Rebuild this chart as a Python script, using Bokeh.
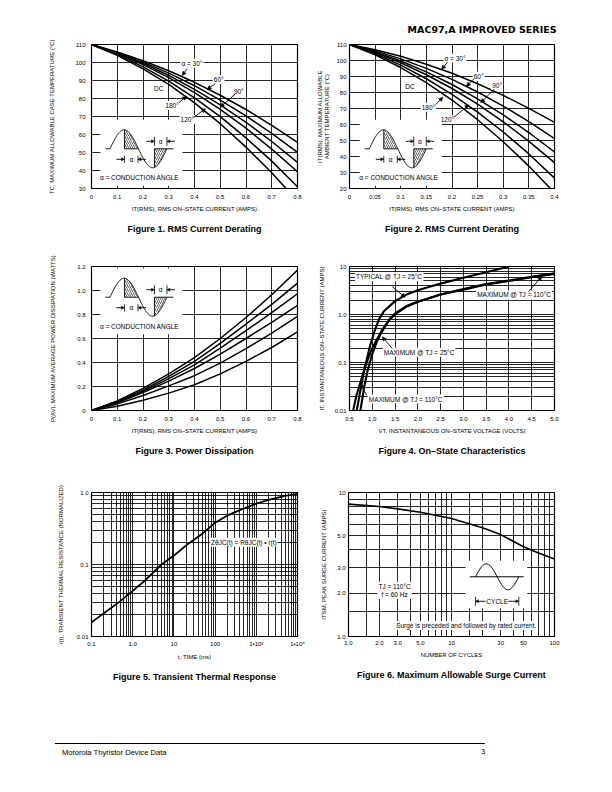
import math
from bokeh.plotting import figure
from bokeh.models import Range1d, FixedTicker, Title, Label, Arrow, NormalHead, Div
from bokeh.layouts import column, row
from bokeh.embed import file_html
from bokeh.resources import INLINE

FONT = "Liberation Sans"

# ---------------- data ----------------
# Figure 1: RMS current derating (case temperature)
fig1_x = [0, 0.1, 0.2, 0.3, 0.4, 0.5, 0.6, 0.7, 0.8]
fig1_c1 = [110, 105.9, 101.0, 95.4, 89.0, 81.8, 73.9, 65.1, 55.6]
fig1_c2 = [110, 105.6, 100.2, 94.1, 87.1, 79.1, 70.3, 60.6, 50.1]
fig1_c3 = [110, 105.3, 99.5, 92.8, 85.1, 76.4, 66.8, 56.1, 44.5]
fig1_c4 = [110, 105.0, 98.8, 91.6, 83.3, 73.9, 63.5, 51.9, 39.3]
fig1_c5 = [110, 104.5, 97.6, 89.7, 80.4, 69.9, 58.1, 45.2, 31.0]
fig1_c6 = [110, 104.0, 96.5, 87.8, 77.6, 66.0, 53.0, 38.7, 23.0]
fig1_xticks = [0, 0.1, 0.2, 0.3, 0.4, 0.5, 0.6, 0.7, 0.8]
fig1_xlabels = ["0", "0.1", "0.2", "0.3", "0.4", "0.5", "0.6", "0.7", "0.8"]
fig1_yticks = [30, 40, 50, 60, 70, 80, 90, 100, 110]

# Figure 2: RMS current derating (ambient temperature)
fig2_x = [0, 0.05, 0.1, 0.15, 0.2, 0.25, 0.3, 0.35, 0.4]
fig2_c1 = [110, 106.7, 102.6, 97.7, 92.0, 85.5, 78.2, 70.1, 61.3]
fig2_c2 = [110, 106.0, 101.0, 95.1, 88.2, 80.3, 71.5, 61.8, 51.2]
fig2_c3 = [110, 105.4, 99.7, 92.9, 85.0, 76.0, 66.0, 54.9, 42.8]
fig2_c4 = [110, 104.9, 98.6, 91.1, 82.5, 72.7, 61.7, 49.5, 36.2]
fig2_c5 = [110, 104.2, 97.1, 88.6, 78.8, 67.7, 55.3, 41.6, 26.5]
fig2_c6 = [110, 103.5, 95.6, 86.2, 75.3, 63.0, 49.2, 34.0, 17.3]
fig2_xticks = [0, 0.05, 0.1, 0.15, 0.2, 0.25, 0.3, 0.35, 0.4]
fig2_xlabels = ["0", "0.05", "0.1", "0.15", "0.2", "0.25", "0.3", "0.35", "0.4"]
fig2_yticks = [20, 30, 40, 50, 60, 70, 80, 90, 100, 110]

# Figure 3: power dissipation
fig3_x = [0, 0.1, 0.2, 0.3, 0.4, 0.5, 0.6, 0.7, 0.8]
fig3_c1 = [0, 0.080, 0.185, 0.305, 0.440, 0.600, 0.775, 0.965, 1.170]
fig3_c2 = [0, 0.075, 0.170, 0.285, 0.410, 0.560, 0.720, 0.885, 1.062]
fig3_c3 = [0, 0.070, 0.160, 0.265, 0.380, 0.520, 0.665, 0.815, 0.973]
fig3_c4 = [0, 0.065, 0.150, 0.245, 0.350, 0.470, 0.600, 0.735, 0.876]
fig3_c5 = [0, 0.055, 0.125, 0.205, 0.290, 0.395, 0.515, 0.645, 0.785]
fig3_c6 = [0, 0.035, 0.085, 0.145, 0.215, 0.305, 0.410, 0.525, 0.655]
fig3_yticks = [0, 0.2, 0.4, 0.6, 0.8, 1.0, 1.2]
fig3_ylabels = ["0", "0.2", "0.4", "0.6", "0.8", "1.0", "1.2"]

# Figure 4: on-state characteristics
fig4_typ25_v = [0.66, 0.75, 0.85, 0.95, 1.05, 1.15, 1.25, 1.50, 1.75, 2.00, 2.50, 3.00, 3.50, 4.00]
fig4_typ25_i = [0.01, 0.03, 0.09, 0.22, 0.45, 0.80, 1.15, 1.90, 2.60, 3.20, 4.40, 5.80, 7.60, 10.0]
fig4_max110_v = [0.58, 0.65, 0.73, 0.82, 0.92, 1.00, 1.10, 1.20, 1.30, 1.40, 1.50, 1.75, 2.00, 2.50, 3.00, 3.50, 4.00, 4.50, 5.00]
fig4_max110_i = [0.01, 0.02, 0.036, 0.07, 0.13, 0.20, 0.30, 0.45, 0.62, 0.82, 1.00, 1.45, 1.85, 2.60, 3.40, 4.30, 5.10, 6.10, 7.20]
fig4_max25_v = [0.74, 0.82, 0.90, 1.00, 1.10, 1.20, 1.30, 1.40, 1.50, 1.75, 2.00, 2.50, 3.00, 3.50, 4.00, 4.50, 5.00]
fig4_max25_i = [0.01, 0.03, 0.07, 0.15, 0.27, 0.42, 0.60, 0.85, 1.05, 1.50, 1.85, 2.60, 3.30, 4.20, 5.00, 6.00, 7.00]
fig4_xticks = [0.5, 1.0, 1.5, 2.0, 2.5, 3.0, 3.5, 4.0, 4.5, 5.0]
fig4_xlabels = ["0.5", "1.0", "1.5", "2.0", "2.5", "3.0", "3.5", "4.0", "4.5", "5.0"]
fig4_yticks = [0.01, 0.1, 1.0, 10.0]
fig4_ylabels = ["0.01", "0.1", "1.0", "10"]

# Figure 5: transient thermal response
fig5_t = [0.1, 0.2, 0.5, 1, 2, 5, 10, 20, 50, 100, 200, 500, 1000, 2000, 5000, 10000]
fig5_r = [0.0157, 0.021, 0.031, 0.043, 0.060, 0.100, 0.133, 0.185, 0.27, 0.38, 0.48, 0.60, 0.70, 0.79, 0.90, 0.96]
fig5_xticks = [0.1, 1, 10, 100, 1000, 10000]
fig5_xlabels = ["0.1", "1.0", "10", "100", "1•10³", "1•10⁴"]
fig5_yticks = [0.01, 0.1, 1.0]
fig5_ylabels = ["0.01", "0.1", "1.0"]

# Figure 6: maximum allowable surge current
fig6_n = [1, 2, 3, 5, 10, 20, 30, 50, 70, 100]
fig6_i = [8.3, 8.0, 7.7, 7.3, 6.6, 5.7, 5.1, 4.2, 3.8, 3.45]
fig6_xticks = [1, 2, 3, 5, 10, 30, 50, 100]
fig6_xlabels = ["1.0", "2.0", "3.0", "5.0", "10", "30", "50", "100"]
fig6_yticks = [1, 2, 3, 5, 10]
fig6_ylabels = ["1.0", "2.0", "3.0", "5.0", "10"]
fig6_xgrid = [1.5, 2, 3, 4, 5, 6, 7, 8, 9, 10, 15, 20, 30, 40, 50, 60, 70, 80, 90]
fig6_ygrid = [1.5, 2, 3, 4, 5, 6, 7, 8, 9]


def decade_minors(lo_exp, hi_exp):
    out = []
    for e in range(lo_exp, hi_exp + 1):
        for m in range(1, 10):
            out.append(m * 10.0 ** e)
    return out


# ---------------- helpers ----------------
def base_fig(xr, yr, xtype, ytype, fw, fh, bl, br, bt, bb):
    p = figure(x_range=Range1d(*xr), y_range=Range1d(*yr),
               x_axis_type=xtype, y_axis_type=ytype,
               frame_width=fw, frame_height=fh,
               min_border_left=bl, min_border_right=br,
               min_border_top=bt, min_border_bottom=bb,
               output_backend="svg", toolbar_location=None,
               title_location=None)
    p.background_fill_color = "white"
    p.border_fill_color = "white"
    p.outline_line_color = "black"
    p.outline_line_width = 1.2
    p.outline_line_alpha = 1
    for ax in list(p.xaxis) + list(p.yaxis):
        ax.axis_line_color = None
        ax.major_tick_out = 0
        ax.major_tick_in = 0
        ax.minor_tick_out = 0
        ax.minor_tick_in = 0
        ax.major_tick_line_color = None
        ax.minor_tick_line_color = None
        ax.major_label_text_font = FONT
        ax.major_label_text_font_size = "6px"
        ax.major_label_text_color = "black"
        ax.axis_label_text_font = FONT
        ax.axis_label_text_font_size = "6px"
        ax.axis_label_text_font_style = "normal"
        ax.axis_label_text_color = "black"
    p.grid.grid_line_color = "black"
    p.grid.grid_line_width = 0.85
    p.grid.grid_line_alpha = 1
    return p


def set_axes(p, xticks, xlabels, yticks, ylabels, xgrid, ygrid,
             xlabel, ylabel, xstand, xlstand, ystand, ylstand):
    xa, ya = p.xaxis[0], p.yaxis[0]
    xa.ticker = FixedTicker(ticks=xticks)
    ya.ticker = FixedTicker(ticks=yticks)
    xa.major_label_overrides = {t: l for t, l in zip(xticks, xlabels)}
    ya.major_label_overrides = {t: l for t, l in zip(yticks, ylabels)}
    p.xgrid[0].ticker = FixedTicker(ticks=xgrid)
    p.ygrid[0].ticker = FixedTicker(ticks=ygrid)
    xa.axis_label = xlabel
    ya.axis_label = ylabel
    xa.major_label_standoff = xstand
    xa.axis_label_standoff = xlstand
    ya.major_label_standoff = ystand
    ya.axis_label_standoff = ylstand


def caption(p, text, standoff=14, offset=0):
    p.add_layout(Title(text=text, align="center", text_font=FONT,
                       text_font_size="9px", text_font_style="bold",
                       text_color="black", standoff=standoff, offset=offset), "below")


def note(p, x, y, text, align="center", size="6.5px", bg=True):
    p.add_layout(Label(x=x, y=y, text=text, text_align=align,
                       text_baseline="middle", text_font=FONT,
                       text_font_size=size, text_color="black",
                       background_fill_color="white" if bg else None,
                       padding=1))


def arrow(p, x0, y0, x1, y1, size=4):
    p.add_layout(Arrow(x_start=x0, y_start=y0, x_end=x1, y_end=y1,
                       line_color="black", line_width=0.9,
                       end=NormalHead(size=size, fill_color="black",
                                      line_color="black", line_width=0.5)))


def curves(p, xs, ys_list, width=1.5):
    for ys in ys_list:
        p.line(xs, ys, line_color="black", line_width=width)


def conduction_inset(p, X, Y):
    """Sketch of the phase-controlled sine wave (pixel offsets mapped by X, Y)."""
    p.quad(left=[X(-24)], right=[X(58)], bottom=[Y(-37)], top=[Y(29)],
           fill_color="white", line_color=None)
    amp, half, start = 19.0, 28.5, -14.5
    sine = lambda d: amp * math.sin(math.pi * (d - start) / half)
    ds = [start + i * (2 * half) / 80 for i in range(81)]
    p.line([X(d) for d in ds], [Y(sine(d)) for d in ds], line_color="black", line_width=0.9)
    for a, b in [(-19, start), (0, 14), (30, 49)]:
        p.line([X(a), X(b)], [Y(0), Y(0)], line_color="black", line_width=0.9)
    p.line([X(0), X(0)], [Y(0), Y(sine(0))], line_color="black", line_width=0.9)
    p.line([X(30), X(30)], [Y(0), Y(sine(30))], line_color="black", line_width=0.9)
    h1 = [0 + i * 14 / 20 for i in range(21)]
    p.patch([X(0)] + [X(d) for d in h1] + [X(14)], [Y(0)] + [Y(sine(d)) for d in h1] + [Y(0)],
            fill_color=None, line_color=None, hatch_pattern="/", hatch_color="black",
            hatch_weight=0.6, hatch_scale=4)
    h2 = [30 + i * 12.5 / 20 for i in range(21)]
    p.patch([X(30)] + [X(d) for d in h2] + [X(42.5)], [Y(0)] + [Y(sine(d)) for d in h2] + [Y(0)],
            fill_color=None, line_color=None, hatch_pattern="/", hatch_color="black",
            hatch_weight=0.6, hatch_scale=4)
    # dimension marks
    for d in (0, 13.5):
        p.line([X(d), X(d)], [Y(-7), Y(-14)], line_color="black", line_width=0.8)
    arrow(p, X(-8), Y(-10.5), X(0), Y(-10.5), 3)
    arrow(p, X(21.5), Y(-10.5), X(13.5), Y(-10.5), 3)
    note(p, X(6.8), Y(-10.5), "α", bg=False)
    for d in (30, 42.5):
        p.line([X(d), X(d)], [Y(3), Y(12)], line_color="black", line_width=0.8)
    arrow(p, X(22), Y(7.5), X(30), Y(7.5), 3)
    arrow(p, X(50.5), Y(7.5), X(42.5), Y(7.5), 3)
    note(p, X(36.2), Y(7.5), "α", bg=False)
    note(p, X(15), Y(-29), "α = CONDUCTION ANGLE", bg=False)


# ---------------- Figure 1 ----------------
p1 = base_fig((0, 0.8), (30, 110), "linear", "linear", 206, 144, 91, 12, 44, 52)
set_axes(p1, fig1_xticks, fig1_xlabels, fig1_yticks, [str(v) for v in fig1_yticks],
         fig1_xticks, fig1_yticks,
         "IT(RMS), RMS ON–STATE CURRENT (AMPS)",
         "TC, MAXIMUM ALLOWABLE CASE TEMPERATURE (°C)", 6, 4, 6, 17)
conduction_inset(p1, lambda d: 0.128 + d * 0.8 / 206, lambda d: 52.06 + d * 80 / 144)
curves(p1, fig1_x, [fig1_c1, fig1_c2, fig1_c3, fig1_c4, fig1_c5, fig1_c6])
note(p1, 0.39, 99.6, "α = 30°")
arrow(p1, 0.372, 96.5, 0.352, 92.8)
note(p1, 0.494, 90.5, "60°")
arrow(p1, 0.48, 88.2, 0.449, 85.0)
note(p1, 0.572, 83.9, "90°")
arrow(p1, 0.559, 82.6, 0.50, 75.2)
note(p1, 0.261, 85.7, "DC")
note(p1, 0.313, 76.1, "180°")
arrow(p1, 0.339, 77.6, 0.369, 81.3)
note(p1, 0.372, 68.3, "120°")
arrow(p1, 0.397, 69.6, 0.443, 74.3)
caption(p1, "Figure 1. RMS Current Derating")

# ---------------- Figure 2 ----------------
p2 = base_fig((0, 0.4), (20, 110), "linear", "linear", 205, 144, 40, 20, 44, 52)
set_axes(p2, fig2_xticks, fig2_xlabels, fig2_yticks, [str(v) for v in fig2_yticks],
         fig2_xticks, fig2_yticks,
         "IT(RMS), RMS ON–STATE CURRENT (AMPS)",
         "IT(RMS), MAXIMUM ALLOWABLE\nAMBIENT TEMPERATURE (°C)", 6, 4, 3, 3)
conduction_inset(p2, lambda d: 0.0669 + d * 0.4 / 205, lambda d: 44.8 + d * 90 / 144)
curves(p2, fig2_x, [fig2_c1, fig2_c2, fig2_c3, fig2_c4, fig2_c5, fig2_c6])
note(p2, 0.206, 101.4, "α = 30°")
arrow(p2, 0.191, 99.0, 0.180, 94.4)
note(p2, 0.252, 90.2, "60°")
arrow(p2, 0.243, 88.6, 0.228, 83.9)
note(p2, 0.288, 84.4, "90°")
arrow(p2, 0.282, 81.9, 0.256, 73.6)
note(p2, 0.118, 84.0, "DC")
note(p2, 0.154, 70.8, "180°")
arrow(p2, 0.168, 72.3, 0.182, 77.1)
note(p2, 0.191, 63.1, "120°")
arrow(p2, 0.204, 64.6, 0.233, 72.3)
p2.add_layout(Title(text="MAC97,A IMPROVED SERIES", align="right", text_font="DejaVu Sans",
                    text_font_size="9.5px", text_font_style="bold", text_color="black",
                    standoff=19, offset=-2), "above")
caption(p2, "Figure 2. RMS Current Derating", offset=3)

# ---------------- Figure 3 ----------------
p3 = base_fig((0, 0.8), (0, 1.2), "linear", "linear", 206, 144, 91, 12, 26, 55)
set_axes(p3, fig1_xticks, fig1_xlabels, fig3_yticks, fig3_ylabels,
         fig1_xticks, fig3_yticks,
         "IT(RMS), RMS ON–STATE CURRENT (AMPS)",
         "P(AV), MAXIMUM AVERAGE POWER DISSIPATION (WATTS)", 6, 4, 6, 18)
conduction_inset(p3, lambda d: 0.128 + d * 0.8 / 206, lambda d: 0.944 + d * 1.2 / 144)
curves(p3, fig3_x, [fig3_c1, fig3_c2, fig3_c3, fig3_c4, fig3_c5, fig3_c6])
caption(p3, "Figure 3. Power Dissipation")

# ---------------- Figure 4 ----------------
p4 = base_fig((0.5, 5.0), (0.01, 10), "linear", "log", 205, 144, 40, 20, 26, 55)
set_axes(p4, fig4_xticks, fig4_xlabels, fig4_yticks, fig4_ylabels,
         fig4_xticks, decade_minors(-2, 0) + [10.0],
         "VT, INSTANTANEOUS ON–STATE VOLTAGE (VOLTS)",
         "IT, INSTANTANEOUS ON–STATE CURRENT (AMPS)", 6, 4, 3, 7)
curves(p4, fig4_typ25_v, [fig4_typ25_i], 2.1)
curves(p4, fig4_max110_v, [fig4_max110_i], 2.1)
curves(p4, fig4_max25_v, [fig4_max25_i], 2.1)
note(p4, 0.62, 6.08, "TYPICAL @ TJ = 25°C", align="left")
arrow(p4, 1.44, 3.81, 1.72, 2.28)
note(p4, 3.28, 2.55, "MAXIMUM @ TJ = 110°C", align="left")
arrow(p4, 4.43, 3.0, 4.72, 6.17)
note(p4, 1.23, 0.164, "MAXIMUM @ TJ = 25°C", align="left")
arrow(p4, 1.44, 0.195, 1.22, 0.343)
note(p4, 0.90, 0.0173, "MAXIMUM @ TJ = 110°C", align="left")
arrow(p4, 0.88, 0.0206, 0.73, 0.036)
caption(p4, "Figure 4. On–State Characteristics")

# ---------------- Figure 5 ----------------
p5 = base_fig((0.1, 10000), (0.01, 1.0), "log", "log", 206, 144, 91, 12, 27, 58)
set_axes(p5, fig5_xticks, fig5_xlabels, fig5_yticks, fig5_ylabels,
         decade_minors(-1, 3) + [10000.0], decade_minors(-2, -1) + [1.0],
         "t, TIME (ms)",
         "r(t), TRANSIENT THERMAL RESISTANCE (NORMALIZED)", 4, 4, 3, 10)
curves(p5, fig5_t, [fig5_r], 1.8)
note(p5, 500, 0.204, "ZθJC(t) = RθJC(t) • r(t)")
caption(p5, "Figure 5. Transient Thermal Response", standoff=15)

# ---------------- Figure 6 ----------------
p6 = base_fig((1, 100), (1, 10), "log", "log", 206, 144, 39, 20, 27, 58)
set_axes(p6, fig6_xticks, fig6_xlabels, fig6_yticks, fig6_ylabels,
         fig6_xgrid, fig6_ygrid,
         "NUMBER OF CYCLES",
         "ITSM, PEAK SURGE CURRENT (AMPS)", 4, 4, 3, 7)
curves(p6, fig6_n, [fig6_i], 1.6)
note(p6, 2.8, 2.09, "TJ = 110°C\nf = 60 Hz")
note(p6, 13.9, 1.19, "Surge is preceded and followed by rated current.")
# cycle sketch
N0, I0 = 17.1, 2.598
SX = lambda d: N0 * 10 ** (d * 2 / 206)
SY = lambda d: I0 * 10 ** (d / 144)
p6.quad(left=[SX(-10)], right=[SX(51.7)], bottom=[SY(-31.4)], top=[SY(16)],
        fill_color="white", line_color=None)
cd = [i * 43.3 / 60 for i in range(61)]
p6.line([SX(d) for d in cd], [SY(13 * math.sin(2 * math.pi * d / 43.3)) for d in cd],
        line_color="black", line_width=1)
p6.line([SX(-5.7), SX(48.3)], [SY(0), SY(0)], line_color="black", line_width=1)
for d in (0, 43.3):
    p6.line([SX(d), SX(d)], [SY(-20), SY(-29)], line_color="black", line_width=0.8)
arrow(p6, SX(10), SY(-24.5), SX(0), SY(-24.5), 3)
arrow(p6, SX(33), SY(-24.5), SX(43.3), SY(-24.5), 3)
note(p6, SX(21.7), SY(-24.5), "CYCLE", bg=False)
caption(p6, "Figure 6. Maximum Allowable Surge Current", standoff=15)

# ---------------- footer ----------------
footer = Div(text=(
    '<div style="position:relative;width:596px;height:75px;'
    'font-family:\'Liberation Sans\',Arial,sans-serif;color:black;">'
    '<div style="position:absolute;left:50px;top:44px;width:430px;height:0;'
    'border-top:1.7px solid black;"></div>'
    '<div style="position:absolute;left:57px;top:49px;font-size:7.6px;line-height:9px;">'
    'Motorola Thyristor Device Data</div>'
    '<div style="position:absolute;left:476px;top:48px;font-size:7.6px;line-height:9px;">3</div>'
    '</div>'), width=596, height=75)

layout = column(row(p1, p2), row(p3, p4), row(p5, p6), footer)
open("out.html", "w").write(file_html(layout, INLINE))
